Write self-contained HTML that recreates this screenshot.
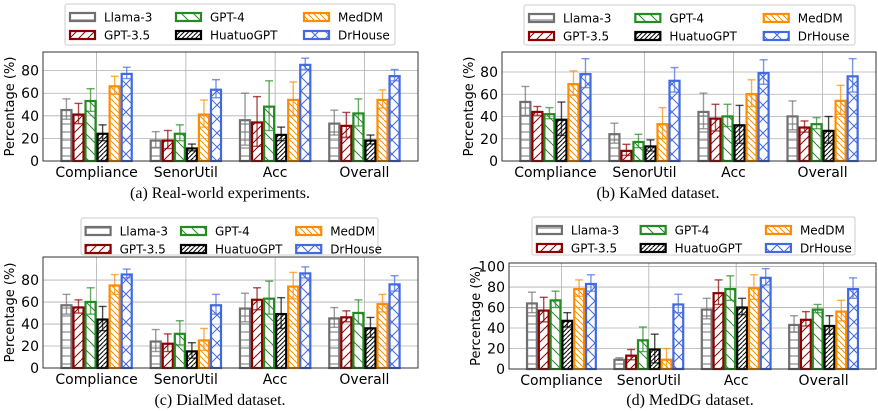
<!DOCTYPE html>
<html><head><meta charset="utf-8">
<style>
body{margin:0;background:#fff;width:878px;height:411px;overflow:hidden;font-family:"DejaVu Sans","Liberation Sans",sans-serif;}
svg{position:absolute;left:0;top:0}
</style></head>
<body>
<svg id="chart" width="878" height="411" xmlns="http://www.w3.org/2000/svg"></svg>
<script>
const categories=["Compliance","SenorUtil","Acc","Overall"];
const seriesNames=["Llama-3","GPT-3.5","GPT-4","HuatuoGPT","MedDM","DrHouse"];
// panel (a) Real-world
const aVals=[[46,19,37,34],[42,19,35,32],[54,25,49,43],[25,12,24,19],[67,42,55,55],[78,64,86,76]];
const aErr=[[9,7,23,11],[9,8,22,11],[10,7,22,12],[7,3,6,4],[8,12,15,8],[5,8,5,5]];
// panel (b) KaMed
const bVals=[[54,25,45,41],[45,10,39,31],[43,18,41,34],[38,14,33,28],[70,34,61,55],[79,73,80,77]];
const bErr=[[13,9,16,13],[4,5,12,5],[5,6,10,5],[15,5,17,12],[11,14,12,13],[13,11,11,15]];
// panel (c) DialMed
const cVals=[[58,25,55,46],[56,23,63,47],[61,32,64,51],[45,16,50,37],[76,26,75,59],[86,58,87,77]];
const cErr=[[9,10,13,9],[6,8,10,5],[12,11,15,11],[11,7,14,9],[9,10,12,8],[4,9,5,7]];
// panel (d) MedDG
const dVals=[[65,10,59,44],[58,14,75,49],[68,29,79,59],[48,20,61,43],[79,10,80,57],[84,64,90,79]];
const dErr=[[10,1,10,8],[12,5,12,7],[8,12,12,4],[7,14,8,9],[8,10,12,10],[8,9,8,10]];
const ticksABC=[0,20,40,60,80];
const ticksD=[0,20,40,60,80,100];

const colors=["#707070","#8b0000","#228b22","#000000","#ff8c00","#4169e1"];
const NS="http://www.w3.org/2000/svg";
const svg=document.getElementById("chart");
function mk(tag,attrs,parent){const e=document.createElementNS(NS,tag);for(const k in attrs)e.setAttribute(k,attrs[k]);(parent||svg).appendChild(e);return e;}
const defs=mk("defs",{});
function pat(id,size,col,lines,sw){const p=mk("pattern",{id:id,patternUnits:"userSpaceOnUse",width:size,height:size},defs);
 lines.forEach(l=>mk("line",{x1:l[0],y1:l[1],x2:l[2],y2:l[3],stroke:col,"stroke-width":sw},p));}
pat("h0",8,colors[0],[[0,4,8,4]],1);
pat("h1",9,colors[1],[[0,9,9,0],[-9,9,0,0],[9,9,18,0]],1);
pat("h2",12,colors[2],[[0,0,12,12],[-12,0,0,12],[12,0,24,12]],1);
pat("h3",4.5,colors[3],[[0,4.5,4.5,0],[-4.5,4.5,0,0],[4.5,4.5,9,0]],1);
pat("h4",6,colors[4],[[0,0,6,6],[-6,0,0,6],[6,0,12,6]],1);
pat("h5",14,colors[5],[[0,0,14,14],[0,14,14,0]],1);

function panel(name,vals,errs,ticks,L,T,R,B,ymax,leg,cap,capX,capY){
 const g=mk("g",{});
 
 
 const W=R-L,unit=W/4.2;
 const y=v=>B-(v/ymax)*(B-T);
 const x=c=>L+(c+0.6)*unit;
 ticks.forEach(t=>{mk("line",{x1:L,x2:R,y1:y(t),y2:y(t),stroke:"#b0b0b0","stroke-width":0.8},g);
  const tl=mk("text",{x:L-4,y:y(t)+5,"text-anchor":"end","font-size":14,fill:"#000"},g);tl.textContent=t;
  });
 categories.forEach((c,i)=>{mk("line",{x1:x(i),x2:x(i),y1:T,y2:B,stroke:"#b0b0b0","stroke-width":0.8},g);
  const tl=mk("text",{x:x(i),y:B+16,"text-anchor":"middle","font-size":14,fill:"#000"},g);tl.textContent=c;
  });
 const bw=unit*0.135;
 vals.forEach((sv,s)=>{sv.forEach((v,i)=>{
  const cx=x(i)+(s-2.5)*bw;
  const r=mk("rect",{x:cx-bw/2+1,y:y(v)+1,width:bw-2,height:B-y(v)-1,fill:"url(#h"+s+")",stroke:colors[s],"stroke-width":2.2},g);
  
  
  const e=errs[s][i],y1=y(v+e),y2=y(Math.max(0,v-e));
  const eg=mk("g",{stroke:colors[s],"stroke-opacity":0.7,"stroke-width":1.4},g);
  
  mk("line",{x1:cx,x2:cx,y1:y1,y2:y2},eg);
  mk("line",{x1:cx-4,x2:cx+4,y1:y1,y2:y1},eg);
  mk("line",{x1:cx-4,x2:cx+4,y1:y2,y2:y2},eg);
 });});
 const fr=mk("rect",{x:L,y:T,width:W,height:B-T,fill:"none",stroke:"#333","stroke-width":1},g);
 
 const yl=mk("text",{x:0,y:0,transform:`translate(${L-29},${(T+B)/2}) rotate(-90)`,"text-anchor":"middle","font-size":13,fill:"#000"},g);
 yl.textContent="Percentage (%)";
 const [lx,ly,lx2,ly2]=leg;
 const lg=mk("g",{},g);
 mk("rect",{x:lx,y:ly,width:lx2-lx,height:ly2-ly,fill:"#fff",stroke:"#ccc","stroke-width":1,rx:2},lg);
 const s=(lx2-lx)/330;
 const colOff=[4*s,110*s,238*s];
 seriesNames.forEach((n,si)=>{const col=Math.floor(si/2),row=si%2;
  const hx=lx+colOff[col],hy=ly+8+row*18;
  const en=mk("g",{},lg);
  mk("rect",{x:hx+1,y:hy+1,width:25,height:8,fill:"url(#h"+si+")",stroke:colors[si],"stroke-width":2.2},en);
  const t=mk("text",{x:hx+35,y:hy+9.5,"font-size":12,fill:"#000"},en);t.textContent=n;});
 const ct=mk("text",{x:capX,y:capY,"text-anchor":"middle","font-size":16,fill:"#000","font-family":"Liberation Serif, serif"},g);
 ct.textContent=cap;
}
panel("panel-real-world",aVals,aErr,ticksABC,43,52,418,161,96.5,[65,4,395,45],"(a) Real-world experiments.",220,198);
panel("panel-kamed",bVals,bErr,ticksABC,502,52,876,161,98,[524,5,855,45],"(b) KaMed dataset.",658,198);
panel("panel-dialmed",cVals,cErr,ticksABC,43,257,418,368,101,[81,218,378,255],"(c) DialMed dataset.",220,405);
panel("panel-meddg",dVals,dErr,ticksD,509,263,876,369,103.5,[532,217,855,255],"(d) MedDG dataset.",690,405);
</script>
</body></html>
